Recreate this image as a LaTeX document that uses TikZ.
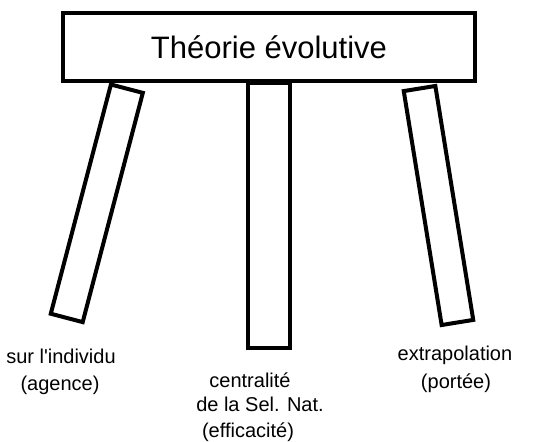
\documentclass[tikz,border=0pt]{standalone}
\usepackage{fontspec}
\setmainfont{Liberation Sans}
\usepackage{tikz}

\begin{document}
\begin{tikzpicture}[x=1pt,y=-1pt,line width=4pt,
  plank/.style={draw,inner sep=0pt,outer sep=0pt},
  lbl/.style={font=\fontsize{20}{24}\selectfont,inner sep=0pt}]
\useasboundingbox (0,0) rectangle (558,442);
% legs of the stool
\node[plank,minimum width=33pt,minimum height=237pt,rotate=-14.7] (legL) at (96.8,203.3) {};
\node[plank,minimum width=42pt,minimum height=265pt] (legC) at (269,215.5) {};
\node[plank,minimum width=32pt,minimum height=237pt,rotate=9.2] (legR) at (438.5,205.5) {};
% seat
\node[plank,fill=white,minimum width=412pt,minimum height=68pt,
  font=\fontsize{31}{37}\selectfont] (seat) at (269,47) {Théorie évolutive};
\node[lbl] (indiv) at (61,356) {sur l\textquotesingle individu};
\node[lbl] (agence) at (60,385) {(agence)};
\node[lbl] (central) at (250,380) {centralité};
\node[lbl] (selnat) at (260,404) {de la Sel. Nat.};
\node[lbl] (effic) at (248,432) {(efficacité)};
\node[lbl] (extrap) at (455,355) {extrapolation};
\node[lbl] (portee) at (456,383) {(portée)};
\end{tikzpicture}
\end{document}
